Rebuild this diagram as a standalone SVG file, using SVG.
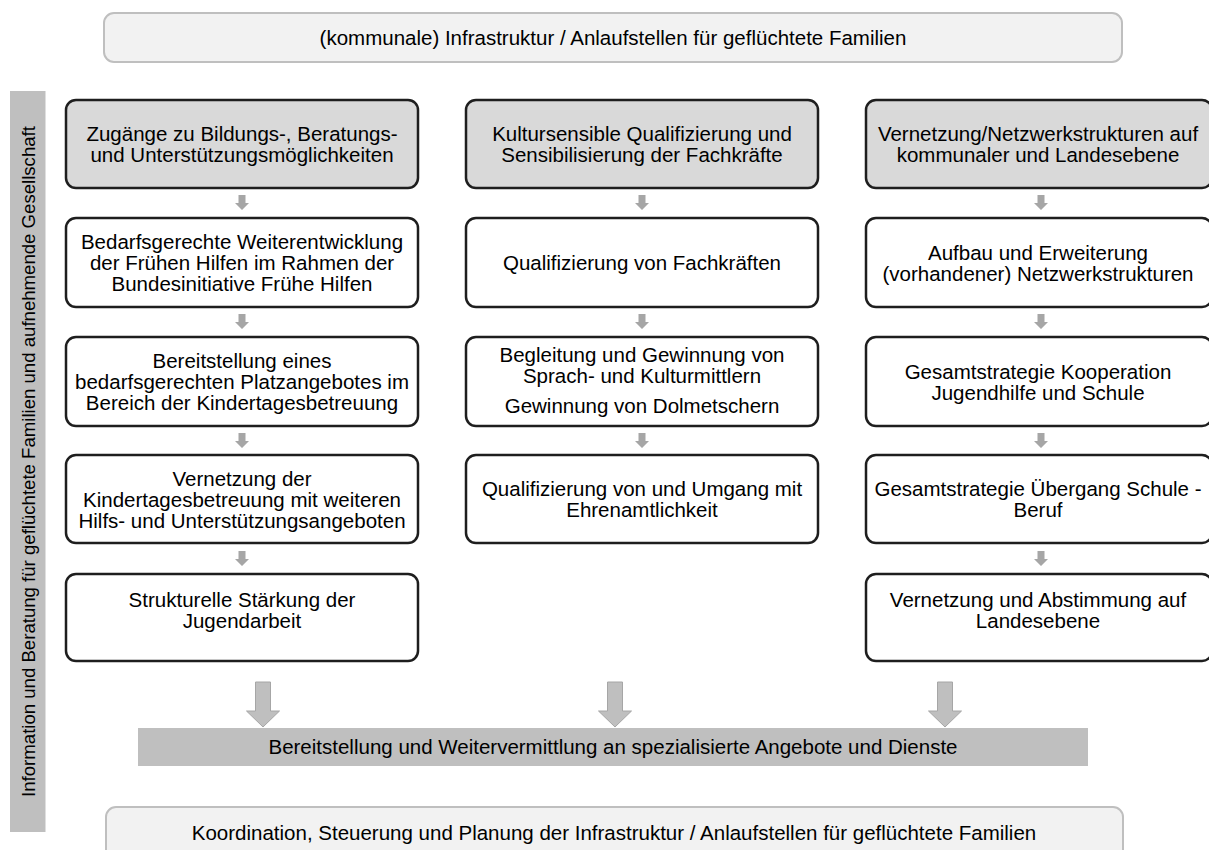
<svg xmlns="http://www.w3.org/2000/svg" xmlns:xlink="http://www.w3.org/1999/xlink" width="1209" height="850" viewBox="0 0 1209 850">
<style>
text{font-family:"Liberation Sans",Arial,sans-serif;font-size:20.5px;fill:#000;text-anchor:middle}
.frame{fill:#f2f2f2;stroke:#bfbfbf;stroke-width:2}
.head{fill:#d9d9d9;stroke:#1e1e1e;stroke-width:2.5}
.box{fill:#fff;stroke:#1e1e1e;stroke-width:2.5}
.band{fill:#bfbfbf}
.sa{fill:#a6a6a6}
.ba{fill:#bfbfbf;stroke:#a6a6a6;stroke-width:1}
.vt{font-size:18.6px}
</style>
<defs>
<path id="smallArrow" d="M-3.5,0H3.5V8H7L0,15L-7,8H-3.5Z"/>
<path id="bigArrow" d="M-7.5,0H7.5V29H16.5L0,45L-16.5,29H-7.5Z"/>
</defs>
<rect width="1209" height="850" fill="#fff"/>

<g id="top">
<rect class="frame" x="104" y="13" width="1018" height="49" rx="10"/>
<text x="613" y="44.5">(kommunale) Infrastruktur / Anlaufstellen für geflüchtete Familien</text>
</g>

<g id="band">
<rect class="band" x="10" y="91" width="35.5" height="741"/>
<text class="vt" transform="translate(35,461.5) rotate(-90)">Information und Beratung für geflüchtete Familien und aufnehmende Gesellschaft</text>
</g>

<g id="h1"><rect class="head" x="66" y="100" width="352" height="88" rx="10"/>
<text x="242" y="140.5">Zugänge zu Bildungs-, Beratungs-</text><text x="242" y="161.5">und Unterstützungsmöglichkeiten</text></g>
<g id="h2"><rect class="head" x="466" y="100" width="352" height="88" rx="10"/>
<text x="642" y="140.5">Kultursensible Qualifizierung und</text><text x="642" y="161.5">Sensibilisierung der Fachkräfte</text></g>
<g id="h3"><rect class="head" x="866" y="100" width="346" height="88" rx="10"/>
<text x="1038" y="140.5">Vernetzung/Netzwerkstrukturen auf</text><text x="1038" y="161.5">kommunaler und Landesebene</text></g>

<g id="c1r2"><rect class="box" x="66" y="218" width="352" height="89" rx="10"/>
<text x="242" y="248.5">Bedarfsgerechte Weiterentwicklung</text><text x="242" y="270">der Frühen Hilfen im Rahmen der</text><text x="242" y="291">Bundesinitiative Frühe Hilfen</text></g>
<g id="c2r2"><rect class="box" x="466" y="218" width="352" height="89" rx="10"/>
<text x="642" y="270">Qualifizierung von Fachkräften</text></g>
<g id="c3r2"><rect class="box" x="866" y="218" width="346" height="89" rx="10"/>
<text x="1038" y="259.5">Aufbau und Erweiterung</text><text x="1038" y="281">(vorhandener) Netzwerkstrukturen</text></g>

<g id="c1r3"><rect class="box" x="66" y="337" width="352" height="89" rx="10"/>
<text x="242" y="367.5">Bereitstellung eines</text><text x="242" y="389">bedarfsgerechten Platzangebotes im</text><text x="242" y="410">Bereich der Kindertagesbetreuung</text></g>
<g id="c2r3"><rect class="box" x="466" y="337" width="352" height="89" rx="10"/>
<text x="642" y="362">Begleitung und Gewinnung von</text><text x="642" y="383">Sprach- und Kulturmittlern</text><text x="642" y="413">Gewinnung von Dolmetschern</text></g>
<g id="c3r3"><rect class="box" x="866" y="337" width="346" height="89" rx="10"/>
<text x="1038" y="378.5">Gesamtstrategie Kooperation</text><text x="1038" y="400">Jugendhilfe und Schule</text></g>

<g id="c1r4"><rect class="box" x="66" y="455" width="352" height="88" rx="10"/>
<text x="242" y="485.5">Vernetzung der</text><text x="242" y="507">Kindertagesbetreuung mit weiteren</text><text x="242" y="528">Hilfs- und Unterstützungsangeboten</text></g>
<g id="c2r4"><rect class="box" x="466" y="455" width="352" height="88" rx="10"/>
<text x="642" y="495.5">Qualifizierung von und Umgang mit</text><text x="642" y="517">Ehrenamtlichkeit</text></g>
<g id="c3r4"><rect class="box" x="866" y="455" width="346" height="88" rx="10"/>
<text x="1038" y="495.5">Gesamtstrategie Übergang Schule -</text><text x="1038" y="517">Beruf</text></g>

<g id="c1r5"><rect class="box" x="66" y="574" width="352" height="87" rx="10"/>
<text x="242" y="606.5">Strukturelle Stärkung der</text><text x="242" y="627.5">Jugendarbeit</text></g>
<g id="c3r5"><rect class="box" x="866" y="574" width="346" height="87" rx="10"/>
<text x="1038" y="606.5">Vernetzung und Abstimmung auf</text><text x="1038" y="627.5">Landesebene</text></g>

<g id="connectors">
<use xlink:href="#smallArrow" class="sa" transform="translate(242,195)"/>
<use xlink:href="#smallArrow" class="sa" transform="translate(242,314)"/>
<use xlink:href="#smallArrow" class="sa" transform="translate(242,433)"/>
<use xlink:href="#smallArrow" class="sa" transform="translate(242,551)"/>
<use xlink:href="#smallArrow" class="sa" transform="translate(642,195)"/>
<use xlink:href="#smallArrow" class="sa" transform="translate(642,314)"/>
<use xlink:href="#smallArrow" class="sa" transform="translate(642,433)"/>
<use xlink:href="#smallArrow" class="sa" transform="translate(1041,195)"/>
<use xlink:href="#smallArrow" class="sa" transform="translate(1041,314)"/>
<use xlink:href="#smallArrow" class="sa" transform="translate(1041,433)"/>
<use xlink:href="#smallArrow" class="sa" transform="translate(1041,551)"/>
<use xlink:href="#bigArrow" class="ba" transform="translate(263,682)"/>
<use xlink:href="#bigArrow" class="ba" transform="translate(615,682)"/>
<use xlink:href="#bigArrow" class="ba" transform="translate(945,682)"/>
</g>

<g id="bar">
<rect class="band" x="138" y="728" width="950" height="38"/>
<text x="613" y="754">Bereitstellung und Weitervermittlung an spezialisierte Angebote und Dienste</text>
</g>

<g id="bottom">
<rect class="frame" x="106" y="807" width="1017" height="60" rx="10"/>
<text x="614" y="840">Koordination, Steuerung und Planung der Infrastruktur / Anlaufstellen für geflüchtete Familien</text>
</g>
</svg>
